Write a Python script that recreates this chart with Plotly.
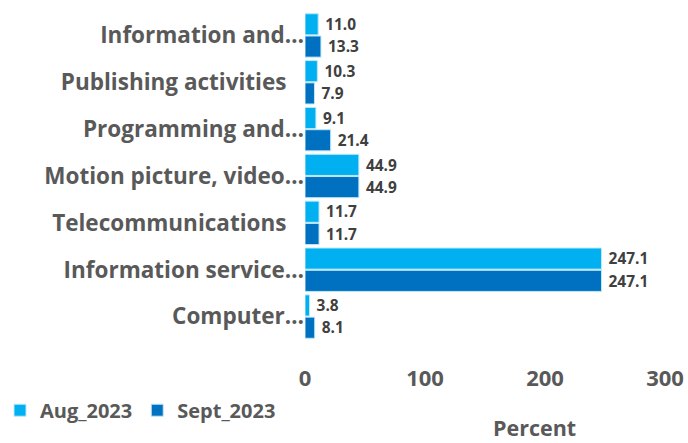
import plotly.graph_objects as go

categories = ["Information and…", "Publishing activities\u00a0\u00a0\u00a0", "Programming and…",
              "Motion picture, video…", "Telecommunications\u00a0\u00a0\u00a0", "Information service…", "Computer…"]
aug_2023 = [11.0, 10.3, 9.1, 44.9, 11.7, 247.1, 3.8]
sept_2023 = [13.3, 7.9, 21.4, 44.9, 11.7, 247.1, 8.1]
x_ticks = [0, 100, 200, 300]

FONT = "'Open Sans', Lato, sans-serif"
GREY = "#595959"
DARK = "#404040"

fig = go.Figure()
fig.add_trace(go.Bar(y=categories, x=aug_2023, name="Aug_2023", orientation="h",
                     marker=dict(color="#00B0F0", line=dict(color="#BFE8F8", width=1)),
                     texttemplate=" %{x:.1f}", textposition="outside", cliponaxis=False,
                     textfont=dict(family=FONT, size=19, color=DARK, weight="bold")))
fig.add_trace(go.Bar(y=categories, x=sept_2023, name="Sept_2023", orientation="h",
                     marker=dict(color="#0070C0", line=dict(color="#BFE8F8", width=1)),
                     texttemplate=" %{x:.1f}", textposition="outside", cliponaxis=False,
                     textfont=dict(family=FONT, size=19, color=DARK, weight="bold")))

fig.update_layout(
    width=688, height=443,
    margin=dict(l=305, r=23, t=12, b=103, autoexpand=False),
    paper_bgcolor="white", plot_bgcolor="white",
    barmode="group", bargap=0.05, bargroupgap=0.05,
    font=dict(family=FONT, color=GREY),
    showlegend=True,
    legend=dict(orientation="h", xref="container", yref="container", x=0.0, y=0.074,
                xanchor="left", yanchor="middle",
                font=dict(family=FONT, size=20, color=GREY, weight="bold"),
                itemwidth=30, tracegroupgap=0),
)
fig.update_xaxes(range=[0, 300], tickvals=x_ticks, showgrid=False, zeroline=False,
                 showline=False, ticks="", ticklabelstandoff=23, automargin=False,
                 tickfont=dict(family=FONT, size=22, color=GREY, weight="bold"))
fig.update_yaxes(autorange="reversed", showgrid=False, showline=False, ticks="", automargin=False,
                 tickfont=dict(family=FONT, size=22.5, color=GREY, weight="bold"))
fig.add_annotation(text="Percent", xref="paper", yref="paper", x=0.637, y=-0.268,
                   xanchor="center", yanchor="middle", showarrow=False,
                   font=dict(family=FONT, size=21.5, color=GREY, weight="bold"))
fig.write_html("out.html", config={"displayModeBar": False},
               post_script="document.body.style.margin='0';document.body.style.overflow='hidden';")
